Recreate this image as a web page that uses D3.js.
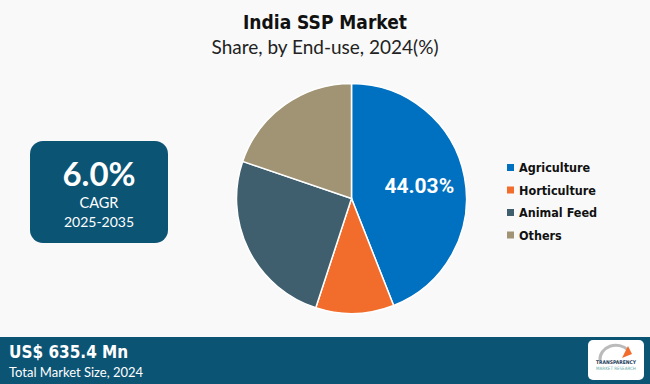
<!DOCTYPE html>
<html>
<head>
<meta charset="utf-8">
<title>India SSP Market</title>
<script src="https://cdn.jsdelivr.net/npm/d3@7"></script>
<style>
  body { margin: 0; background: #f9f9f9; }
  svg { display: block; }
</style>
</head>
<body>
<div id="chart"></div>
<script>
  // data
  var categories = ['Agriculture', 'Horticulture', 'Animal Feed', 'Others'];
  var shares = [44.03, 11.0, 25.2, 19.77];
  var colors = ['#0070c0', '#f26d2b', '#3f5f6e', '#a09474'];
  var labelShown = [true, false, false, false];

  var width = 650, height = 384;

  var svg = d3.select('#chart')
    .append('svg')
    .attr('width', width)
    .attr('height', height);

  svg.append('rect')
    .attr('width', width)
    .attr('height', height)
    .attr('fill', '#f9f9f9');

  // titles
  svg.append('text')
    .attr('x', 325).attr('y', 29)
    .attr('text-anchor', 'middle')
    .style('font-family', 'DejaVu Sans Condensed, DejaVu Sans')
    .style('font-weight', 'bold')
    .style('font-size', '19px')
    .attr('fill', '#111')
    .text('India SSP Market');

  svg.append('text')
    .attr('x', 325).attr('y', 54)
    .attr('text-anchor', 'middle')
    .style('font-family', 'Lato, Open Sans')
    .style('font-size', '19px')
    .attr('fill', '#222')
    .text('Share, by End-use, 2024(%)');

  // pie
  var cx = 351.5, cy = 198.5, r = 115;

  var pie = d3.pie().sort(null).value(function(d) { return d; });
  var arc = d3.arc().innerRadius(0).outerRadius(r);
  var labelArc = d3.arc().innerRadius(r * 0.6).outerRadius(r * 0.6);

  var g = svg.append('g').attr('transform', 'translate(' + cx + ',' + cy + ')');
  var arcs = pie(shares);

  g.selectAll('path')
    .data(arcs)
    .enter()
    .append('path')
    .attr('d', arc)
    .attr('fill', function(d, i) { return colors[i]; })
    .attr('stroke', '#fff')
    .attr('stroke-width', 1.5);

  g.selectAll('text.lbl')
    .data(arcs.filter(function(d, i) { return labelShown[i]; }))
    .enter()
    .append('text')
    .attr('class', 'lbl')
    .attr('transform', function(d) { return 'translate(' + labelArc.centroid(d) + ')'; })
    .attr('text-anchor', 'middle')
    .attr('dy', '0.35em')
    .style('font-family', 'Roboto, Arial')
    .style('font-weight', 'bold')
    .style('font-size', '21px')
    .attr('fill', '#fff')
    .text(function(d) { return d.data.toFixed(2) + '%'; });

  // legend
  var legend = svg.append('g').attr('transform', 'translate(507,168)');
  var item = legend.selectAll('g')
    .data(categories)
    .enter()
    .append('g')
    .attr('transform', function(d, i) { return 'translate(0,' + (i * 22.5) + ')'; });

  item.append('rect')
    .attr('x', 0).attr('y', -4)
    .attr('width', 7).attr('height', 7)
    .attr('fill', function(d, i) { return colors[i]; });

  item.append('text')
    .attr('x', 12).attr('y', 0)
    .attr('dy', '0.35em')
    .style('font-family', 'DejaVu Sans Condensed, DejaVu Sans')
    .style('font-weight', 'bold')
    .style('font-size', '12.5px')
    .attr('fill', '#111')
    .text(function(d) { return d; });

  // CAGR box
  var box = svg.append('g');
  box.append('rect')
    .attr('x', 30).attr('y', 141)
    .attr('width', 138).attr('height', 102)
    .attr('rx', 13)
    .attr('fill', '#0c5474');
  box.append('text')
    .attr('x', 99).attr('y', 186)
    .attr('text-anchor', 'middle')
    .style('font-family', 'Lato, Open Sans')
    .style('font-weight', 'bold')
    .style('font-size', '33px')
    .attr('fill', '#fff')
    .text('6.0%');
  box.append('text')
    .attr('x', 99).attr('y', 208)
    .attr('text-anchor', 'middle')
    .style('font-family', 'Lato, Open Sans')
    .style('font-size', '14.5px')
    .attr('fill', '#fff')
    .text('CAGR');
  box.append('text')
    .attr('x', 99).attr('y', 227)
    .attr('text-anchor', 'middle')
    .style('font-family', 'Lato, Open Sans')
    .style('font-size', '14px')
    .attr('fill', '#fff')
    .text('2025-2035');

  // bottom band
  svg.append('rect')
    .attr('x', 0).attr('y', 337)
    .attr('width', width).attr('height', height - 337)
    .attr('fill', '#0c5474');
  svg.append('text')
    .attr('x', 9).attr('y', 358)
    .style('font-family', 'DejaVu Sans Condensed, DejaVu Sans')
    .style('font-weight', 'bold')
    .style('font-size', '17px')
    .attr('fill', '#fff')
    .text('US$ 635.4 Mn');
  svg.append('text')
    .attr('x', 9).attr('y', 377)
    .style('font-family', 'Lato, Open Sans')
    .style('font-size', '13px')
    .attr('fill', '#fff')
    .text('Total Market Size, 2024');

  // logo badge
  var logo = svg.append('g').attr('transform', 'translate(588,340)');
  logo.append('rect')
    .attr('width', 56).attr('height', 40)
    .attr('rx', 5)
    .attr('fill', '#fff');
  logo.append('path')
    .attr('d', 'M12,20 A16,14 0 0 1 40,10')
    .attr('fill', 'none')
    .attr('stroke', '#bbb')
    .attr('stroke-width', 3);
  logo.append('path')
    .attr('d', 'M34,18 L40,6 L44,14 Z')
    .attr('fill', '#f26d2b');
  logo.append('text')
    .attr('x', 28).attr('y', 24)
    .attr('text-anchor', 'middle')
    .style('font-family', 'DejaVu Sans Condensed')
    .style('font-weight', 'bold')
    .style('font-size', '5px')
    .attr('fill', '#1d3c5a')
    .text('TRANSPARENCY');
  logo.append('text')
    .attr('x', 28).attr('y', 30)
    .attr('text-anchor', 'middle')
    .style('font-family', 'DejaVu Sans Condensed')
    .style('font-size', '4.5px')
    .attr('fill', '#6aa')
    .text('MARKET RESEARCH');
</script>
</body>
</html>
